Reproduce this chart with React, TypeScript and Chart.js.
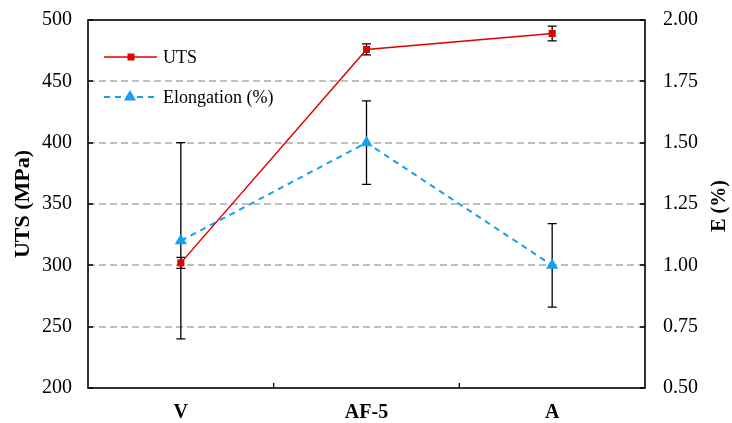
import React, { useEffect, useRef } from "react";
import { Chart, registerables } from "chart.js";

Chart.register(...registerables);

// ---- data ----
const categories = ["V", "AF-5", "A"];
const utsValues = [302, 476, 489];
const utsErrors = [4.5, 4.5, 6];
const elongationValues = [1.1, 1.5, 1.0];
const elongationErrors = [0.4, 0.17, 0.17];
const utsTicks = [200, 250, 300, 350, 400, 450, 500];
const eTicks = [0.5, 0.75, 1.0, 1.25, 1.5, 1.75, 2.0];
const seriesLabels = ["UTS", "Elongation (%)"];
const axisTitles = ["UTS (MPa)", "E (%)"];

const FONT = "'Liberation Serif', 'Times New Roman', Times, serif";
const RED = "#E00000";
const BLUE = "#14A0F0";

const decorPlugin = {
  id: "decor",
  beforeDatasetsDraw(chart: any) {
    const { ctx, chartArea: a, scales } = chart;
    const y = scales.y;
    ctx.save();
    // dashed gridlines
    ctx.strokeStyle = "#ABABAB";
    ctx.lineWidth = 1.5;
    ctx.setLineDash([7, 4]);
    utsTicks.forEach((v) => {
      if (v === utsTicks[0] || v === utsTicks[utsTicks.length - 1]) return;
      const py = Math.round(y.getPixelForValue(v));
      ctx.beginPath();
      ctx.moveTo(a.left, py);
      ctx.lineTo(a.right, py);
      ctx.stroke();
    });
    ctx.setLineDash([]);
    // error bars
    ctx.strokeStyle = "#000";
    ctx.lineWidth = 1.3;
    const errs = [utsErrors, elongationErrors];
    chart.data.datasets.forEach((ds: any, di: number) => {
      const meta = chart.getDatasetMeta(di);
      const sc = scales[ds.yAxisID];
      ds.data.forEach((v: number, i: number) => {
        const px = meta.data[i].x;
        const top = sc.getPixelForValue(v + errs[di][i]);
        const bot = sc.getPixelForValue(v - errs[di][i]);
        const cap = 4.5;
        ctx.beginPath();
        ctx.moveTo(px, top);
        ctx.lineTo(px, bot);
        ctx.moveTo(px - cap, top);
        ctx.lineTo(px + cap, top);
        ctx.moveTo(px - cap, bot);
        ctx.lineTo(px + cap, bot);
        ctx.stroke();
      });
    });
    ctx.restore();
  },
  afterDraw(chart: any) {
    const { ctx, chartArea: a, scales } = chart;
    ctx.save();
    // frame
    ctx.strokeStyle = "#000";
    ctx.lineWidth = 1.6;
    ctx.strokeRect(a.left, a.top, a.right - a.left, a.bottom - a.top);
    // inward tick marks
    ctx.lineWidth = 1.3;
    ctx.beginPath();
    utsTicks.forEach((v) => {
      const py = Math.round(scales.y.getPixelForValue(v));
      ctx.moveTo(a.left, py);
      ctx.lineTo(a.left + 5, py);
    });
    eTicks.forEach((v) => {
      const py = Math.round(scales.y2.getPixelForValue(v));
      ctx.moveTo(a.right, py);
      ctx.lineTo(a.right - 5, py);
    });
    for (let i = 0; i < categories.length - 1; i++) {
      const px = (scales.x.getPixelForValue(i) + scales.x.getPixelForValue(i + 1)) / 2;
      ctx.moveTo(px, a.bottom);
      ctx.lineTo(px, a.bottom - 5);
    }
    ctx.stroke();

    // legend
    const lx0 = a.left + 16;
    const tx = a.left + 75;
    const rows = [a.top + 37, a.top + 77];
    ctx.font = `18px ${FONT}`;
    ctx.fillStyle = "#000";
    ctx.textBaseline = "middle";
    ctx.textAlign = "left";
    // UTS
    ctx.strokeStyle = RED;
    ctx.lineWidth = 1.5;
    ctx.beginPath();
    ctx.moveTo(lx0, rows[0]);
    ctx.lineTo(lx0 + 53, rows[0]);
    ctx.stroke();
    ctx.fillStyle = RED;
    ctx.fillRect(lx0 + 27 - 3.5, rows[0] - 3.5, 7, 7);
    ctx.fillStyle = "#000";
    ctx.fillText(seriesLabels[0], tx, rows[0] + 1);
    // Elongation
    ctx.strokeStyle = BLUE;
    ctx.lineWidth = 2;
    ctx.setLineDash([6, 5]);
    ctx.beginPath();
    ctx.moveTo(lx0, rows[1]);
    ctx.lineTo(lx0 + 50, rows[1]);
    ctx.stroke();
    ctx.setLineDash([]);
    ctx.fillStyle = BLUE;
    const cx = lx0 + 26;
    const r = 7;
    ctx.beginPath();
    ctx.moveTo(cx, rows[1] - r);
    ctx.lineTo(cx + r * 0.866, rows[1] + r * 0.5);
    ctx.lineTo(cx - r * 0.866, rows[1] + r * 0.5);
    ctx.closePath();
    ctx.fill();
    ctx.fillStyle = "#000";
    ctx.fillText(seriesLabels[1], tx, rows[1] + 1);

    // axis titles
    ctx.font = `bold 22px ${FONT}`;
    ctx.textAlign = "center";
    ctx.save();
    ctx.translate(23, 204);
    ctx.rotate(-Math.PI / 2);
    ctx.fillText(axisTitles[0], 0, 0);
    ctx.restore();
    ctx.font = `bold 20px ${FONT}`;
    ctx.save();
    ctx.translate(720, 206);
    ctx.rotate(-Math.PI / 2);
    ctx.fillText(axisTitles[1], 0, 0);
    ctx.restore();
    ctx.restore();
  },
};

export default function App() {
  const ref = useRef<HTMLCanvasElement | null>(null);
  useEffect(() => {
    if (!ref.current) return;
    const chart = new Chart(ref.current, {
      type: "line",
      data: {
        labels: categories,
        datasets: [
          {
            label: seriesLabels[0],
            data: utsValues,
            yAxisID: "y",
            borderColor: RED,
            backgroundColor: RED,
            borderWidth: 1.5,
            pointStyle: "rect",
            pointRadius: 5,
            pointBorderWidth: 0,
            pointBackgroundColor: RED,
            tension: 0,
          },
          {
            label: seriesLabels[1],
            data: elongationValues,
            yAxisID: "y2",
            borderColor: BLUE,
            backgroundColor: BLUE,
            borderWidth: 2,
            borderDash: [6, 5],
            pointStyle: "triangle",
            pointRadius: 7,
            pointBorderWidth: 0,
            pointBackgroundColor: BLUE,
            tension: 0,
          },
        ],
      },
      options: {
        responsive: false,
        animation: false,
        layout: { padding: { top: 20, left: 0, right: 0, bottom: 0 } },
        plugins: { legend: { display: false }, tooltip: { enabled: false } },
        scales: {
          x: {
            type: "category",
            offset: true,
            grid: { display: false },
            border: { display: false },
            ticks: { color: "#000", font: { family: FONT, size: 20, weight: "bold" }, padding: 5 },
            afterFit: (s: any) => { s.height = 35; },
          },
          y: {
            position: "left",
            min: 200,
            max: 500,
            grid: { display: false },
            border: { display: false },
            ticks: { stepSize: 50, color: "#000", font: { family: FONT, size: 20 }, padding: 8 },
            afterFit: (s: any) => { s.width = 88; s.paddingTop = 0; },
          },
          y2: {
            position: "right",
            min: 0.5,
            max: 2.0,
            grid: { display: false },
            border: { display: false },
            ticks: {
              stepSize: 0.25,
              color: "#000",
              font: { family: FONT, size: 20 },
              padding: 10,
              callback: (v: any) => Number(v).toFixed(2),
            },
            afterFit: (s: any) => { s.width = 87; s.paddingTop = 0; },
          },
        },
      },
      plugins: [decorPlugin],
    });
    return () => chart.destroy();
  }, []);
  return (
    <div style={{ position: "absolute", left: 0, top: 0, width: 732, height: 423, background: "#fff" }}>
      <canvas ref={ref} width={732} height={423} />
    </div>
  );
}
